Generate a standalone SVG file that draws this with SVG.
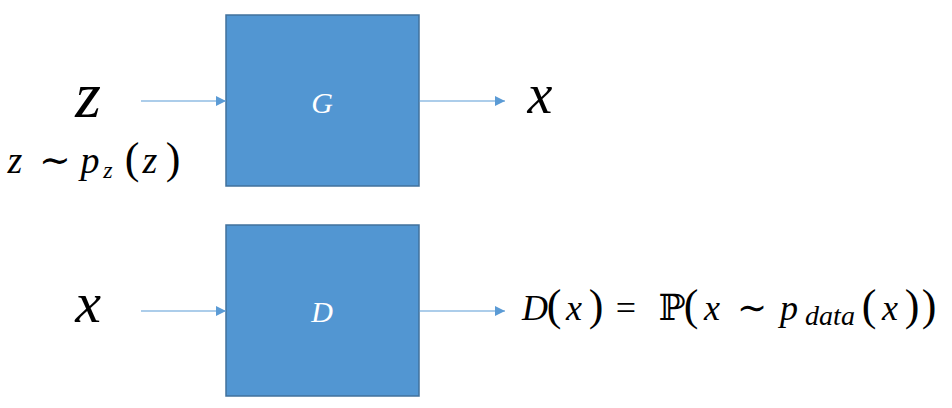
<svg xmlns="http://www.w3.org/2000/svg" width="952" height="408" viewBox="0 0 952 408">
<defs>
<marker id="ah" viewBox="0 0 10 10" refX="10" refY="5" markerWidth="10" markerHeight="10" markerUnits="userSpaceOnUse" orient="auto">
<path d="M0,0 L10,5 L0,10 z" fill="#5b9bd5"/>
</marker>
<style>
.box{fill:#5296d2;stroke:#41719c;stroke-width:1.5}
.lbl{font-family:"Liberation Serif",serif;font-style:italic;fill:#fff;font-size:30px;text-anchor:middle}
.m{font-family:"Liberation Serif","DejaVu Serif",serif;fill:#000;text-anchor:middle}
.i{font-style:italic}
.p{font-size:44px}
.conn{stroke:#5b9bd5;stroke-width:1.2;fill:none;marker-end:url(#ah)}
</style>
</defs>
<rect width="952" height="408" fill="#fff"/>
<g id="G">
<rect class="box" x="226" y="15" width="193" height="171"/>
<text class="lbl" x="322" y="113">G</text>
</g>
<g id="D">
<rect class="box" x="226" y="225" width="193" height="171"/>
<text class="lbl" x="322" y="322">D</text>
</g>
<g id="z-in">
<text class="m i" x="88" y="117" font-size="66">z</text>
<text class="m" y="173" font-size="38"><tspan class="i" x="15">z</tspan><tspan x="55">∼</tspan><tspan class="i" x="90">p</tspan><tspan class="i" font-size="24" x="108" y="178">z</tspan><tspan class="p" x="132" y="173">(</tspan><tspan class="i" x="150">z</tspan><tspan class="p" x="173">)</tspan></text>
</g>
<g id="x-out">
<text class="m i" x="540" y="113" font-size="56">x</text>
</g>
<g id="x-in">
<text class="m i" x="88" y="322" font-size="58">x</text>
</g>
<g id="d-out">
<text class="m" y="320" font-size="36"><tspan class="i" x="535">D</tspan><tspan class="p" x="554">(</tspan><tspan class="i" x="574">x</tspan><tspan class="p" x="596">)</tspan><tspan x="626">=</tspan><tspan x="672" font-family="DejaVu Serif">ℙ</tspan><tspan class="p" x="691">(</tspan><tspan class="i" x="712">x</tspan><tspan x="752">∼</tspan><tspan class="i" x="789">p</tspan><tspan class="i" x="830" y="325" font-size="28">data</tspan><tspan class="p" x="869" y="320">(</tspan><tspan class="i" x="890">x</tspan><tspan class="p" x="912">)</tspan><tspan class="p" x="929">)</tspan></text>
</g>
<g id="connectors">
<line class="conn" x1="141" y1="101" x2="226" y2="101"/>
<line class="conn" x1="419" y1="101" x2="505" y2="101"/>
<line class="conn" x1="141" y1="311" x2="226" y2="311"/>
<line class="conn" x1="419" y1="311" x2="505" y2="311"/>
</g>
</svg>
